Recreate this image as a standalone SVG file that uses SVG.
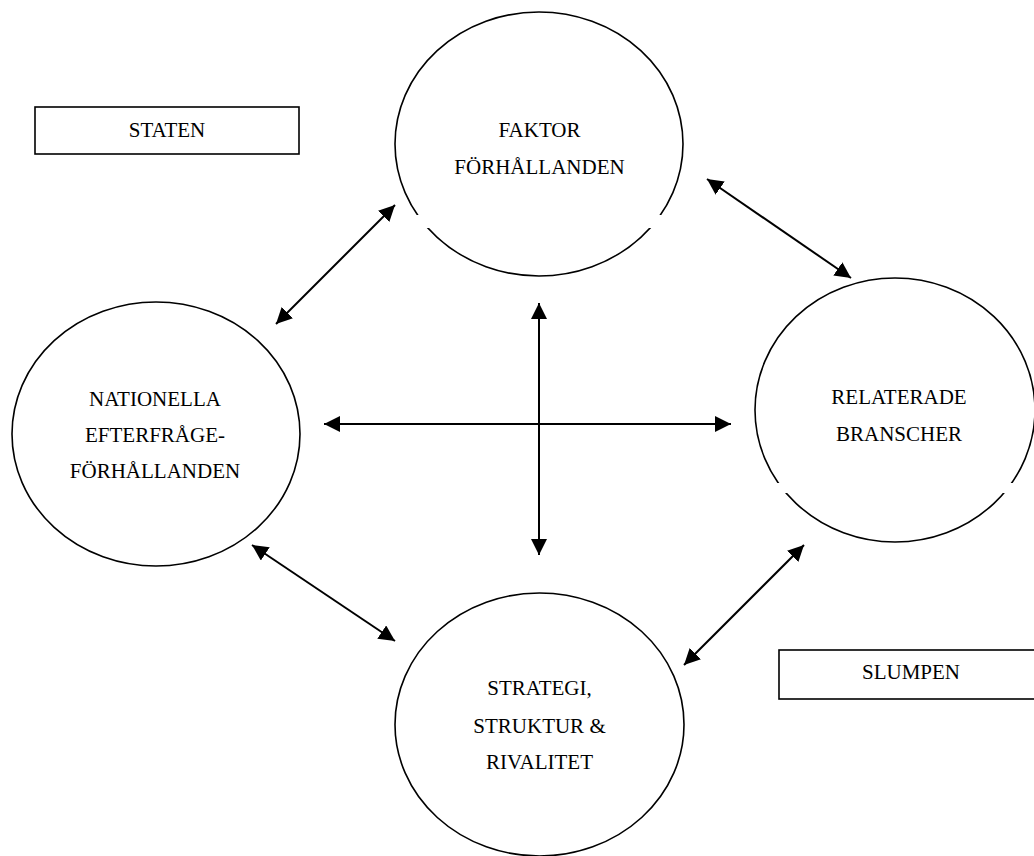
<svg xmlns="http://www.w3.org/2000/svg" width="1034" height="856" viewBox="0 0 1034 856">
<style>
.node{fill:#fff;stroke:#000;stroke-width:1.6}
.box{fill:#fff;stroke:#000;stroke-width:1.6}
.gap{fill:#fff;stroke:none}
.lbl{font-family:"Liberation Serif","Times New Roman",serif;font-size:21px;fill:#000;text-anchor:middle}
.arr{stroke:#000;stroke-width:2;fill:none;marker-start:url(#ah);marker-end:url(#ah)}
</style>
<defs>
<marker id="ah" markerUnits="userSpaceOnUse" markerWidth="16" markerHeight="16" refX="16" refY="8" orient="auto-start-reverse" viewBox="0 0 16 16">
<path d="M0,0 L16,8 L0,16 z" fill="#000"/>
</marker>
</defs>
<rect width="1034" height="856" fill="#fff"/>
<g id="staten">
<rect class="box" x="35" y="107" width="264" height="47"/>
<text class="lbl" x="167" y="137">STATEN</text>
</g>
<g id="slumpen">
<rect class="box" x="779" y="650" width="262" height="49"/>
<text class="lbl" x="911" y="679">SLUMPEN</text>
</g>
<g id="faktor">
<ellipse class="node" cx="539" cy="144" rx="144" ry="132"/>
<rect class="gap" x="400" y="215" width="280" height="13"/>
<text class="lbl" x="539.5" y="137">FAKTOR</text>
<text class="lbl" x="539.5" y="174">FÖRHÅLLANDEN</text>
</g>
<g id="relaterade">
<ellipse class="node" cx="895" cy="410" rx="140" ry="132"/>
<rect class="gap" x="760" y="483" width="275" height="10"/>
<text class="lbl" x="899" y="404">RELATERADE</text>
<text class="lbl" x="899" y="441">BRANSCHER</text>
</g>
<g id="nationella">
<ellipse class="node" cx="156" cy="434" rx="144" ry="132"/>
<text class="lbl" x="155" y="406">NATIONELLA</text>
<text class="lbl" x="155" y="442">EFTERFRÅGE-</text>
<text class="lbl" x="155" y="478">FÖRHÅLLANDEN</text>
</g>
<g id="strategi">
<ellipse class="node" cx="539.5" cy="724.5" rx="144.5" ry="131.5"/>
<text class="lbl" x="539.5" y="695">STRATEGI,</text>
<text class="lbl" x="539.5" y="733">STRUKTUR &amp;</text>
<text class="lbl" x="539.5" y="769">RIVALITET</text>
</g>
<g id="connectors">
<line class="arr" x1="395" y1="205" x2="276" y2="324"/>
<line class="arr" x1="707" y1="179" x2="851" y2="278"/>
<line class="arr" x1="252" y1="545" x2="395" y2="641"/>
<line class="arr" x1="804" y1="545" x2="684" y2="665"/>
<line class="arr" x1="539" y1="303" x2="539" y2="555"/>
<line class="arr" x1="324" y1="424" x2="731" y2="424"/>
</g>
</svg>
